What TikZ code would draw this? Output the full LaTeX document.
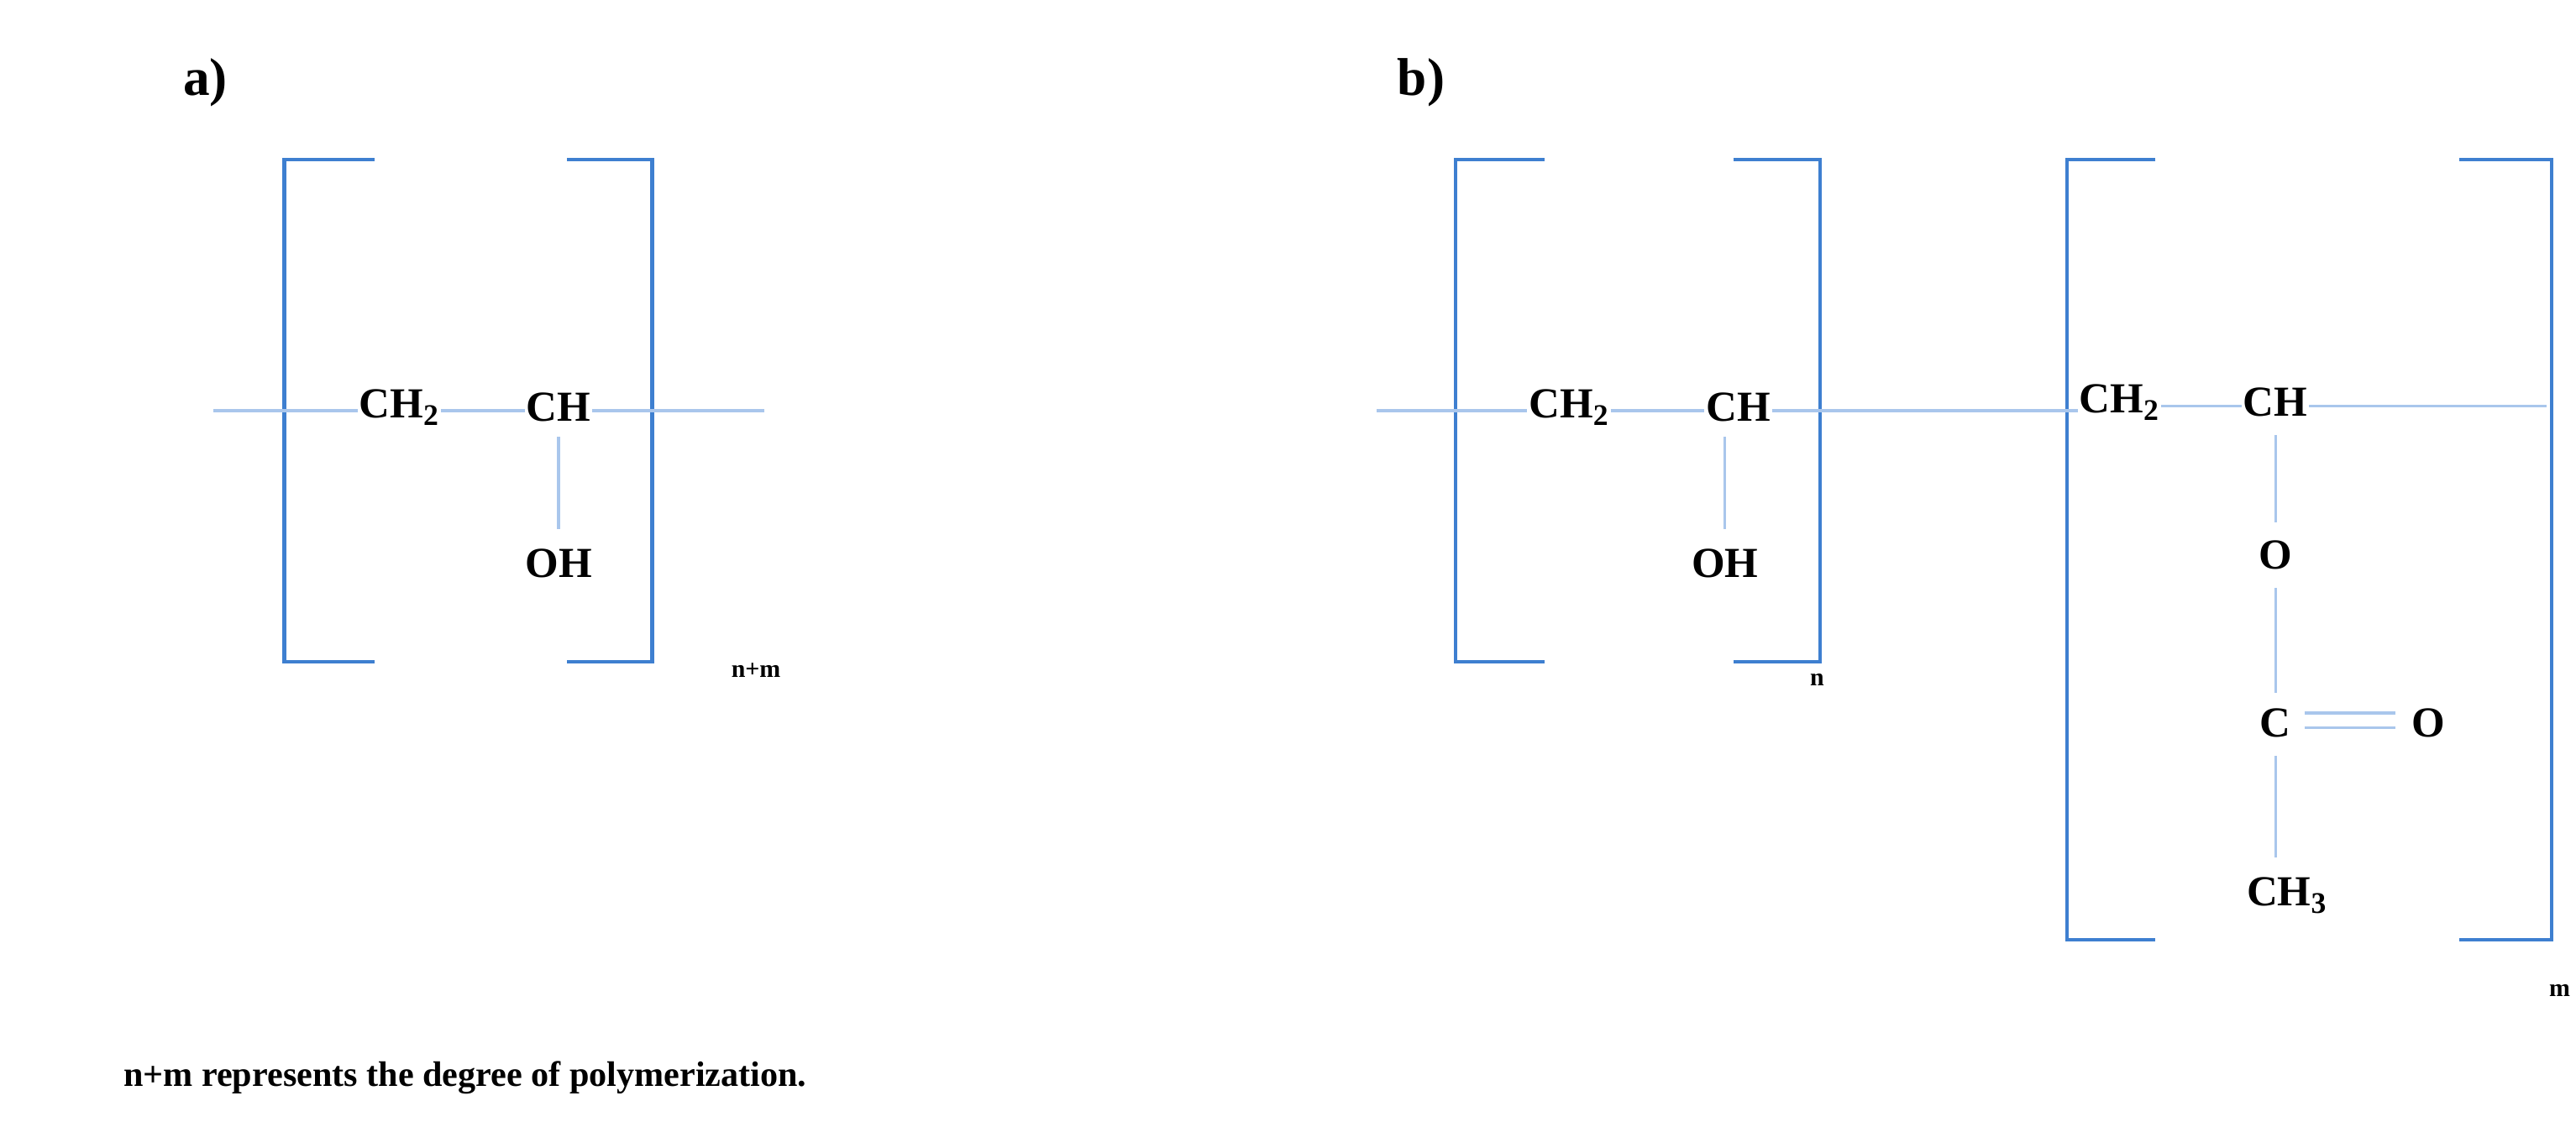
\documentclass[tikz,border=0pt]{standalone}
\usepackage{fontspec}
\setmainfont{Liberation Serif}
\begin{document}
\begin{tikzpicture}[x=0.03912cm,y=-0.03912cm,
  br/.style={draw=brk,line width=2.4pt},
  bd/.style={draw=bnd,line width=1.8pt},
  atm/.style={font=\fontsize{29}{33}\selectfont\bfseries,inner sep=1pt},
  lab/.style={font=\fontsize{36}{40}\selectfont\bfseries},
  sm/.style={font=\fontsize{17}{20}\selectfont\bfseries},
  note/.style={font=\fontsize{24}{28}\selectfont\bfseries}]
\definecolor{brk}{HTML}{3E7FD0}
\definecolor{bnd}{HTML}{A9C6EC}
\useasboundingbox (0,0) rectangle (1568,683);
% a
\node[lab] (la) at (125,50) {a)};
\draw[br] (228,97) -- (173,97) -- (173,403) -- (228,403);
\draw[br] (345,97) -- (397,97) -- (397,403) -- (345,403);
\node[sm,anchor=west] (nm) at (442,408) {n+m};
\node[atm] (a1) at (243,248) {CH$_{\mathbf 2}$};
\node[atm] (a2) at (340,248) {CH};
\node[atm] (a3) at (340,343) {OH};
\coordinate (al) at (130,250); \coordinate (ar) at (465,250);
\draw[bd] (al) -- (a1.west|-al);
\draw[bd] (a1.east|-al) -- (a2.west|-al);
\draw[bd] (a2.east|-ar) -- (ar);
\draw[bd] (340,266) -- (340,322);
% b
\node[lab] (lb) at (865,50) {b)};
\draw[br] (940,97) -- (886,97) -- (886,403) -- (940,403);
\draw[br] (1055,97) -- (1108,97) -- (1108,403) -- (1055,403);
\node[sm] (nn) at (1106,414) {n};
\node[atm] (b1) at (955,248) {CH$_{\mathbf 2}$};
\node[atm] (b2) at (1058,248) {CH};
\node[atm] (b3) at (1050,343) {OH};
\coordinate (bl) at (838,250);
\draw[bd] (bl) -- (b1.west|-bl);
\draw[bd] (b1.east|-bl) -- (b2.west|-bl);
\draw[bd] (1050,266) -- (1050,322);
\draw[br] (1312,97) -- (1258,97) -- (1258,572) -- (1312,572);
\draw[br] (1497,97) -- (1553,97) -- (1553,572) -- (1497,572);
\node[sm] (mm) at (1558,603) {m};
\node[atm] (c1) at (1290,245) {CH$_{\mathbf 2}$};
\node[atm] (c2) at (1385,245) {CH};
\node[atm] (c3) at (1385,338) {O};
\node[atm] (c4) at (1385,440) {C};
\node[atm] (c5) at (1478,440) {O};
\node[atm] (c6) at (1392,545) {CH$_{\mathbf 3}$};
\coordinate (cr) at (1550,247);
\draw[bd] (b2.east|-bl) -- (c1.west|-bl);
\draw[bd] (c1.east|-cr) -- (c2.west|-cr);
\draw[bd] (c2.east|-cr) -- (cr);
\draw[bd] (1385,265) -- (1385,318);
\draw[bd] (1385,358) -- (1385,422);
\draw[bd] (1403,434) -- (1458,434);
\draw[bd] (1403,443) -- (1458,443);
\draw[bd] (1385,460) -- (1385,522);
\node[note,anchor=west] (nt) at (72,656) {n+m represents the degree of polymerization.};
\end{tikzpicture}
\end{document}
